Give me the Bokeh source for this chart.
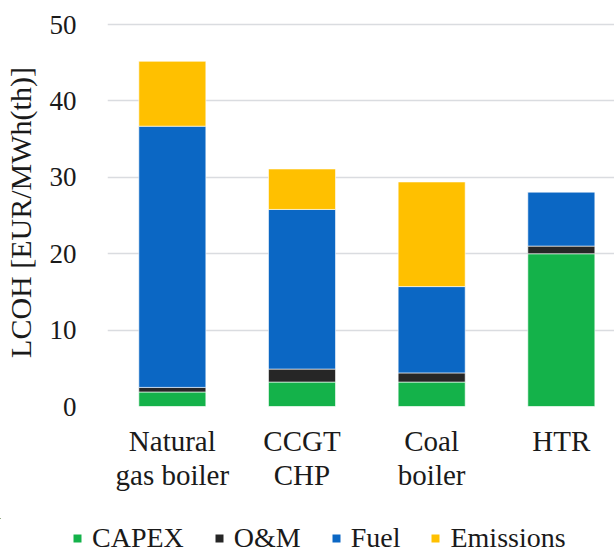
from bokeh.plotting import figure
from bokeh.layouts import column, row
from bokeh.models import (ColumnDataSource, Range1d, FixedTicker, Legend, LegendItem)
from bokeh.embed import file_html
from bokeh.resources import INLINE

categories = ["Natural\ngas boiler", "CCGT\nCHP", "Coal\nboiler", "HTR"]
series = ["CAPEX", "O&M", "Fuel", "Emissions"]
capex = [1.9, 3.2, 3.2, 20.0]
om = [0.6, 1.7, 1.2, 1.0]
fuel = [34.2, 20.9, 11.3, 7.1]
emissions = [8.5, 5.3, 13.7, 0.0]
colors = ["#14b24a", "#262626", "#0b67c4", "#ffc000"]
y_ticks = [0, 10, 20, 30, 40, 50]

FONT = "Liberation Serif"

xs = list(range(len(categories)))
src = ColumnDataSource(dict(x=xs, CAPEX=capex, **{"O&M": om}, Fuel=fuel, Emissions=emissions))

p = figure(width=614, height=518, output_backend="svg", toolbar_location=None,
           x_range=Range1d(-0.5, 3.41), y_range=Range1d(0, 50.8),
           min_border_left=107, min_border_right=0, min_border_top=18, min_border_bottom=112)
p.outline_line_color = None
p.background_fill_color = "white"

rs = p.vbar_stack(series, x="x", width=0.517, source=src, color=colors,
                  line_color="white", line_alpha=0.6, line_width=1)

p.xgrid.visible = False
p.ygrid.ticker = FixedTicker(ticks=y_ticks)
p.ygrid.grid_line_color = "#dadce0"
p.ygrid.grid_line_width = 1.5

p.yaxis.ticker = FixedTicker(ticks=y_ticks)
p.yaxis.axis_line_color = None
p.yaxis.major_tick_line_color = None
p.yaxis.minor_tick_line_color = None
p.yaxis.major_label_text_font = FONT
p.yaxis.major_label_text_font_size = "27px"
p.yaxis.major_label_text_color = "#1a1a1a"
p.yaxis.major_label_standoff = 25
p.yaxis.axis_label = "LCOH [EUR/MWh(th)]"
p.yaxis.axis_label_text_font = FONT
p.yaxis.axis_label_text_font_size = "30px"
p.yaxis.axis_label_text_font_style = "normal"
p.yaxis.axis_label_text_color = "#1a1a1a"
p.yaxis.axis_label_standoff = 10

p.xaxis.ticker = FixedTicker(ticks=xs)
p.xaxis.major_label_overrides = {i: c for i, c in zip(xs, categories)}
p.xaxis.axis_line_color = None
p.xaxis.major_tick_line_color = None
p.xaxis.minor_tick_line_color = None
p.xaxis.major_label_text_font = FONT
p.xaxis.major_label_text_font_size = "29px"
p.xaxis.major_label_text_line_height = 1.08
p.xaxis.major_label_text_color = "#1a1a1a"
p.xaxis.major_label_standoff = 12

# legend strip (separate figure so the legend is not clipped by the main frame);
# its stacked bars lie outside its visible ranges, only their legend keys show
pl = figure(width=614, height=36, output_backend="svg", toolbar_location=None,
            x_axis_location=None, y_axis_location=None,
            x_range=Range1d(100, 101), y_range=Range1d(-200, -100),
            min_border_left=0, min_border_right=0, min_border_top=0, min_border_bottom=0)
pl.grid.visible = False
pl.outline_line_color = None
lrs = pl.vbar_stack(series, x="x", width=0.517, source=src, fill_color=colors, line_alpha=0)

legend = Legend(items=[LegendItem(label=s, renderers=[r]) for s, r in zip(series, lrs)],
                orientation="horizontal", location=(72, 0),
                glyph_width=10, glyph_height=10, label_standoff=10, spacing=30,
                padding=0, margin=0, border_line_color=None, background_fill_alpha=0,
                label_text_font="'Liberation Serif'", label_text_font_size="28px",
                label_text_color="#1a1a1a")
pl.add_layout(legend, "center")

open("out.html", "w").write(file_html(column(p, row(pl), spacing=0), INLINE))
